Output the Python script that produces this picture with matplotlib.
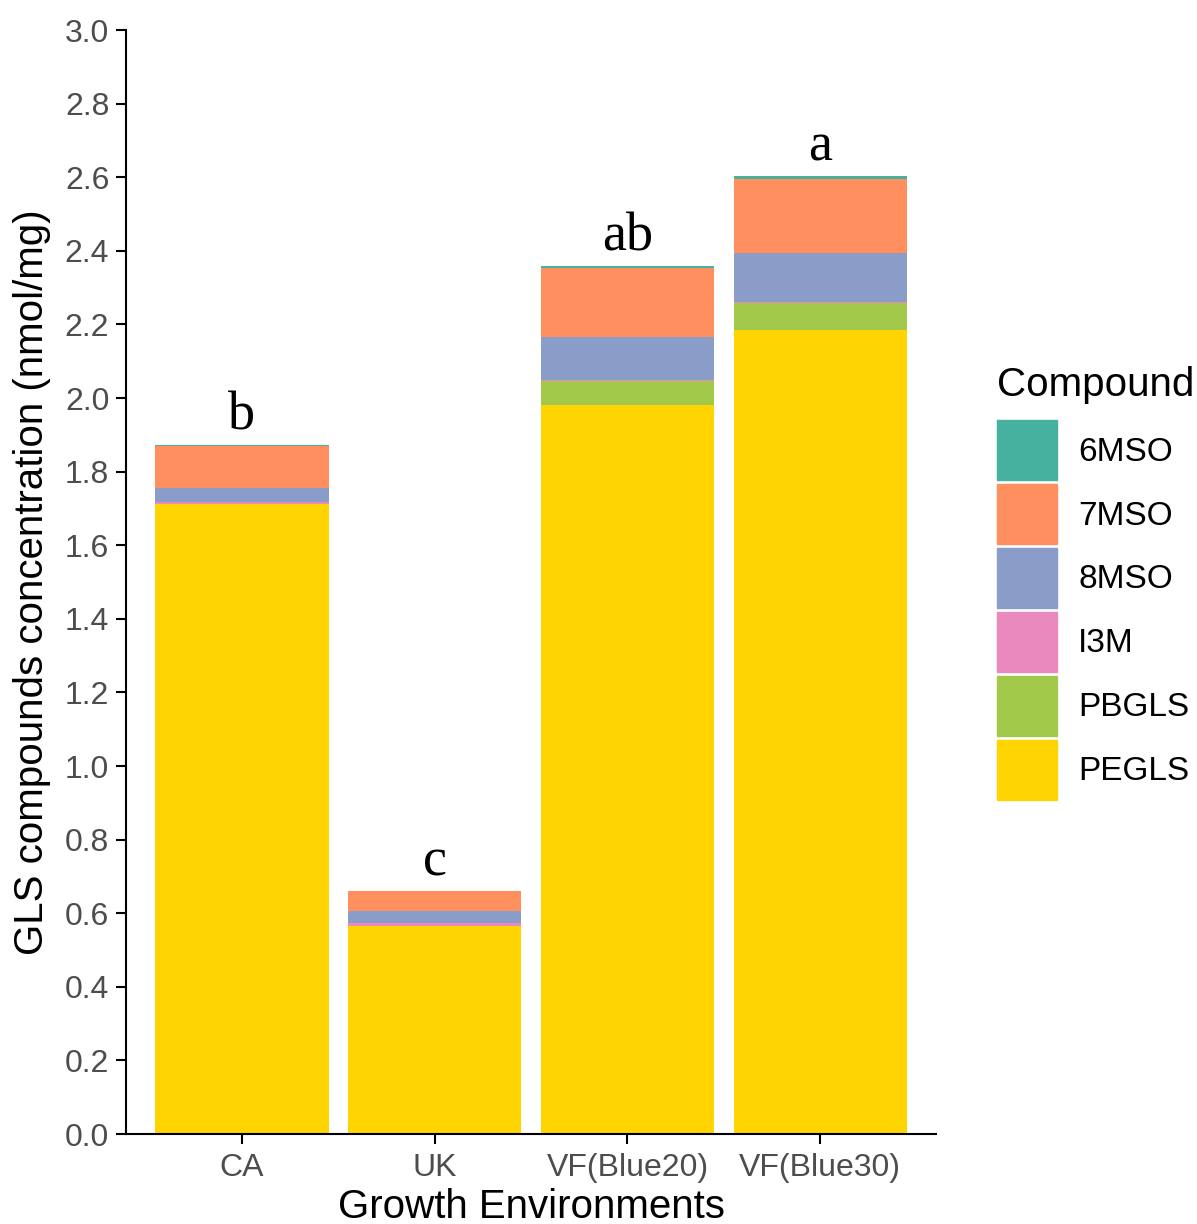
import matplotlib.pyplot as plt
import numpy as np

plt.rcParams["font.family"] = ["Liberation Sans", "DejaVu Sans"]

# growth environments on the x axis
envs = ["CA", "UK", "VF(Blue20)", "VF(Blue30)"]

# stacked from bottom to top
pegls = [1.712, 0.565, 1.982, 2.185]
pbgls = [0.000, 0.000, 0.065, 0.074]
i3m = [0.006, 0.008, 0.002, 0.003]
mso8 = [0.038, 0.033, 0.118, 0.132]
mso7 = [0.114, 0.053, 0.186, 0.201]
mso6 = [0.003, 0.001, 0.006, 0.008]

letters = ["b", "c", "ab", "a"]

compounds = ["6MSO", "7MSO", "8MSO", "I3M", "PBGLS", "PEGLS"]
colors = {"6MSO": "#47B1A0", "7MSO": "#FF8F5E", "8MSO": "#8A9DC8",
          "I3M": "#EA89BD", "PBGLS": "#A2C94A", "PEGLS": "#FFD400"}

fig = plt.figure(figsize=(11.97, 12.24), dpi=100)
ax = fig.add_axes([126 / 1197, 1 - 1134 / 1224, (936 - 126) / 1197, (1134 - 30) / 1224])

x = np.arange(1, len(envs) + 1)
series = [("PEGLS", pegls), ("PBGLS", pbgls), ("I3M", i3m),
          ("8MSO", mso8), ("7MSO", mso7), ("6MSO", mso6)]
bottom = np.zeros(len(envs))
for name, vals in series:
    ax.bar(x, vals, width=0.9, bottom=bottom, color=colors[name], linewidth=0)
    bottom = bottom + np.array(vals)

for xi, top, lab in zip(x, bottom, letters):
    ax.text(xi, top + 0.01, lab, ha="center", va="bottom",
            fontsize=39, family="Liberation Serif")

ax.set_xlim(0.4, 4.6)
ax.set_ylim(0, 3.0)
ax.set_yticks(np.arange(0, 3.01, 0.2))
ax.set_yticklabels([f"{v:.1f}" for v in np.arange(0, 3.01, 0.2)])
ax.set_xticks(x)
ax.set_xticklabels(envs)
ax.tick_params(axis="both", labelsize=23, colors="black", labelcolor="#4D4D4D",
               length=7, width=1.5)
ax.tick_params(axis="x", pad=7)
ax.tick_params(axis="y", pad=5)
for s in ["top", "right"]:
    ax.spines[s].set_visible(False)
for s in ["left", "bottom"]:
    ax.spines[s].set_linewidth(1.5)

ax.set_xlabel("Growth Environments", fontsize=29, labelpad=3)
ax.set_ylabel("GLS compounds concentration (nmol/mg)", fontsize=29, labelpad=10)

handles = [plt.Rectangle((0, 0), 1, 1, color=colors[c]) for c in compounds]
leg = fig.legend(handles, compounds, title="Compound", loc="upper left",
                 bbox_to_anchor=(990 / 1197, 1 - 359 / 1224), frameon=False,
                 fontsize=24, title_fontsize=29, handlelength=1.8,
                 handleheight=2.39, labelspacing=0.12, handletextpad=0.65,
                 borderaxespad=0, borderpad=0.2)
leg._legend_box.align = "left"
leg._legend_box.sep = 12

fig.savefig("out.png", dpi=100)
